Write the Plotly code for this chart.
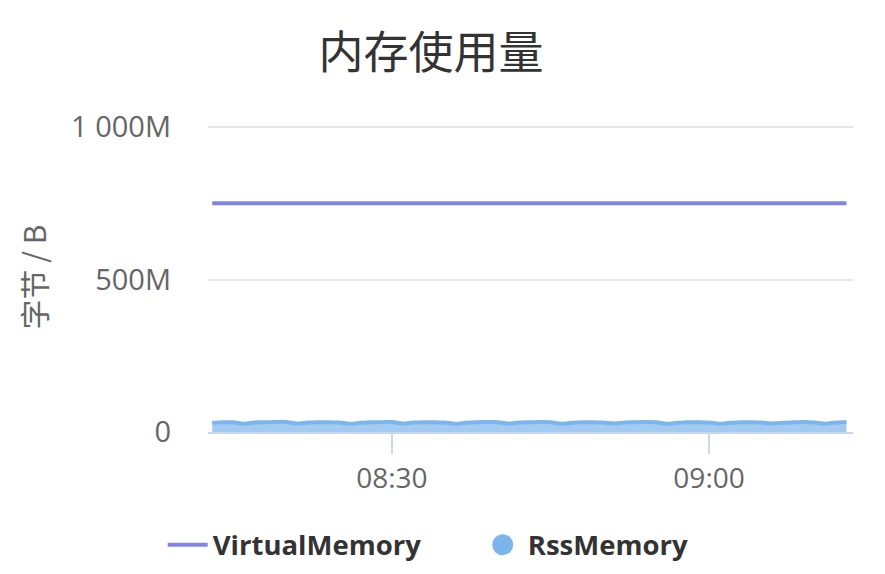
import plotly.graph_objects as go
import pandas as pd

# Data (memory in MB), one point per minute from 08:13 to 09:13
times = pd.date_range("2024-01-01 08:13", "2024-01-01 09:13", freq="1min")
virtual_mb = [750] * 61
rss_mb = [30, 32, 32, 27, 31, 32, 33, 33, 28, 31,
          32, 32, 31, 27, 30, 32, 32, 33, 28, 31,
          32, 32, 31, 27, 30, 32, 33, 32, 28, 31,
          32, 33, 32, 27, 30, 32, 32, 31, 28, 31,
          32, 33, 32, 27, 30, 32, 32, 31, 27, 30,
          32, 32, 31, 28, 30, 32, 33, 31, 27, 31, 33]
y_tickvals = [0, 500, 1000]
y_ticktext = ["0", "500M", "1 000M"]
x_range = ["2024-01-01 08:12:36", "2024-01-01 09:13:37"]

fig = go.Figure()
fig.add_trace(go.Scatter(
    x=times, y=virtual_mb, mode="lines", name="VirtualMemory",
    line=dict(color="#8085e9", width=4),
))
fig.add_trace(go.Scatter(
    x=times, y=rss_mb, mode="lines", name="RssMemory", showlegend=False,
    fill="tozeroy", fillcolor="rgba(124,181,236,0.7)",
    line=dict(color="#7cb5ec", width=4, shape="spline", smoothing=0.8),
))
fig.add_trace(go.Scatter(
    x=[None], y=[None], mode="markers", name="RssMemory",
    marker=dict(color="#7cb5ec", size=16, symbol="circle",
                line=dict(color="#7cb5ec", width=6)),
))

fig.update_layout(
    width=885, height=574,
    margin=dict(l=208, r=32, t=122, b=142, autoexpand=False),
    paper_bgcolor="white", plot_bgcolor="white",
    title=dict(text="内存使用量", x=0.487, xanchor="center", y=0.908, yanchor="middle",
               font=dict(family="Noto Sans CJK SC", size=45, color="#333333")),
    showlegend=True,
    legend=dict(orientation="h", x=-0.0702, xanchor="left", y=-0.364, yanchor="middle",
                font=dict(family="Open Sans", size=27.5, color="#333333", weight="bold"),
                itemwidth=40, entrywidth=260, traceorder="normal"),
    font=dict(family="Open Sans", color="#666666"),
)
fig.update_xaxes(
    type="date", range=x_range, showgrid=False, zeroline=False,
    showline=True, linecolor="#ccd6eb", linewidth=2,
    ticks="outside", ticklen=20, tickwidth=2, tickcolor="#ccd6eb",
    tick0="2024-01-01 08:30", dtick=30 * 60 * 1000, tickformat="%H:%M",
    tickfont=dict(family="Open Sans", size=28, color="#666666"),
    automargin=False,
)
fig.update_yaxes(
    range=[0, 1016.4], tickvals=y_tickvals, ticktext=y_ticktext,
    showgrid=True, gridcolor="#e6e6e6", gridwidth=2, zeroline=False,
    showline=False, ticks="", ticklabelstandoff=36,
    tickfont=dict(family="Open Sans", size=29, color="#666666"),
    title=dict(text="字节 / B", standoff=15,
               font=dict(family="Noto Sans CJK SC", size=30, color="#666666")),
    automargin=False,
)

fig.write_html("out.html")
